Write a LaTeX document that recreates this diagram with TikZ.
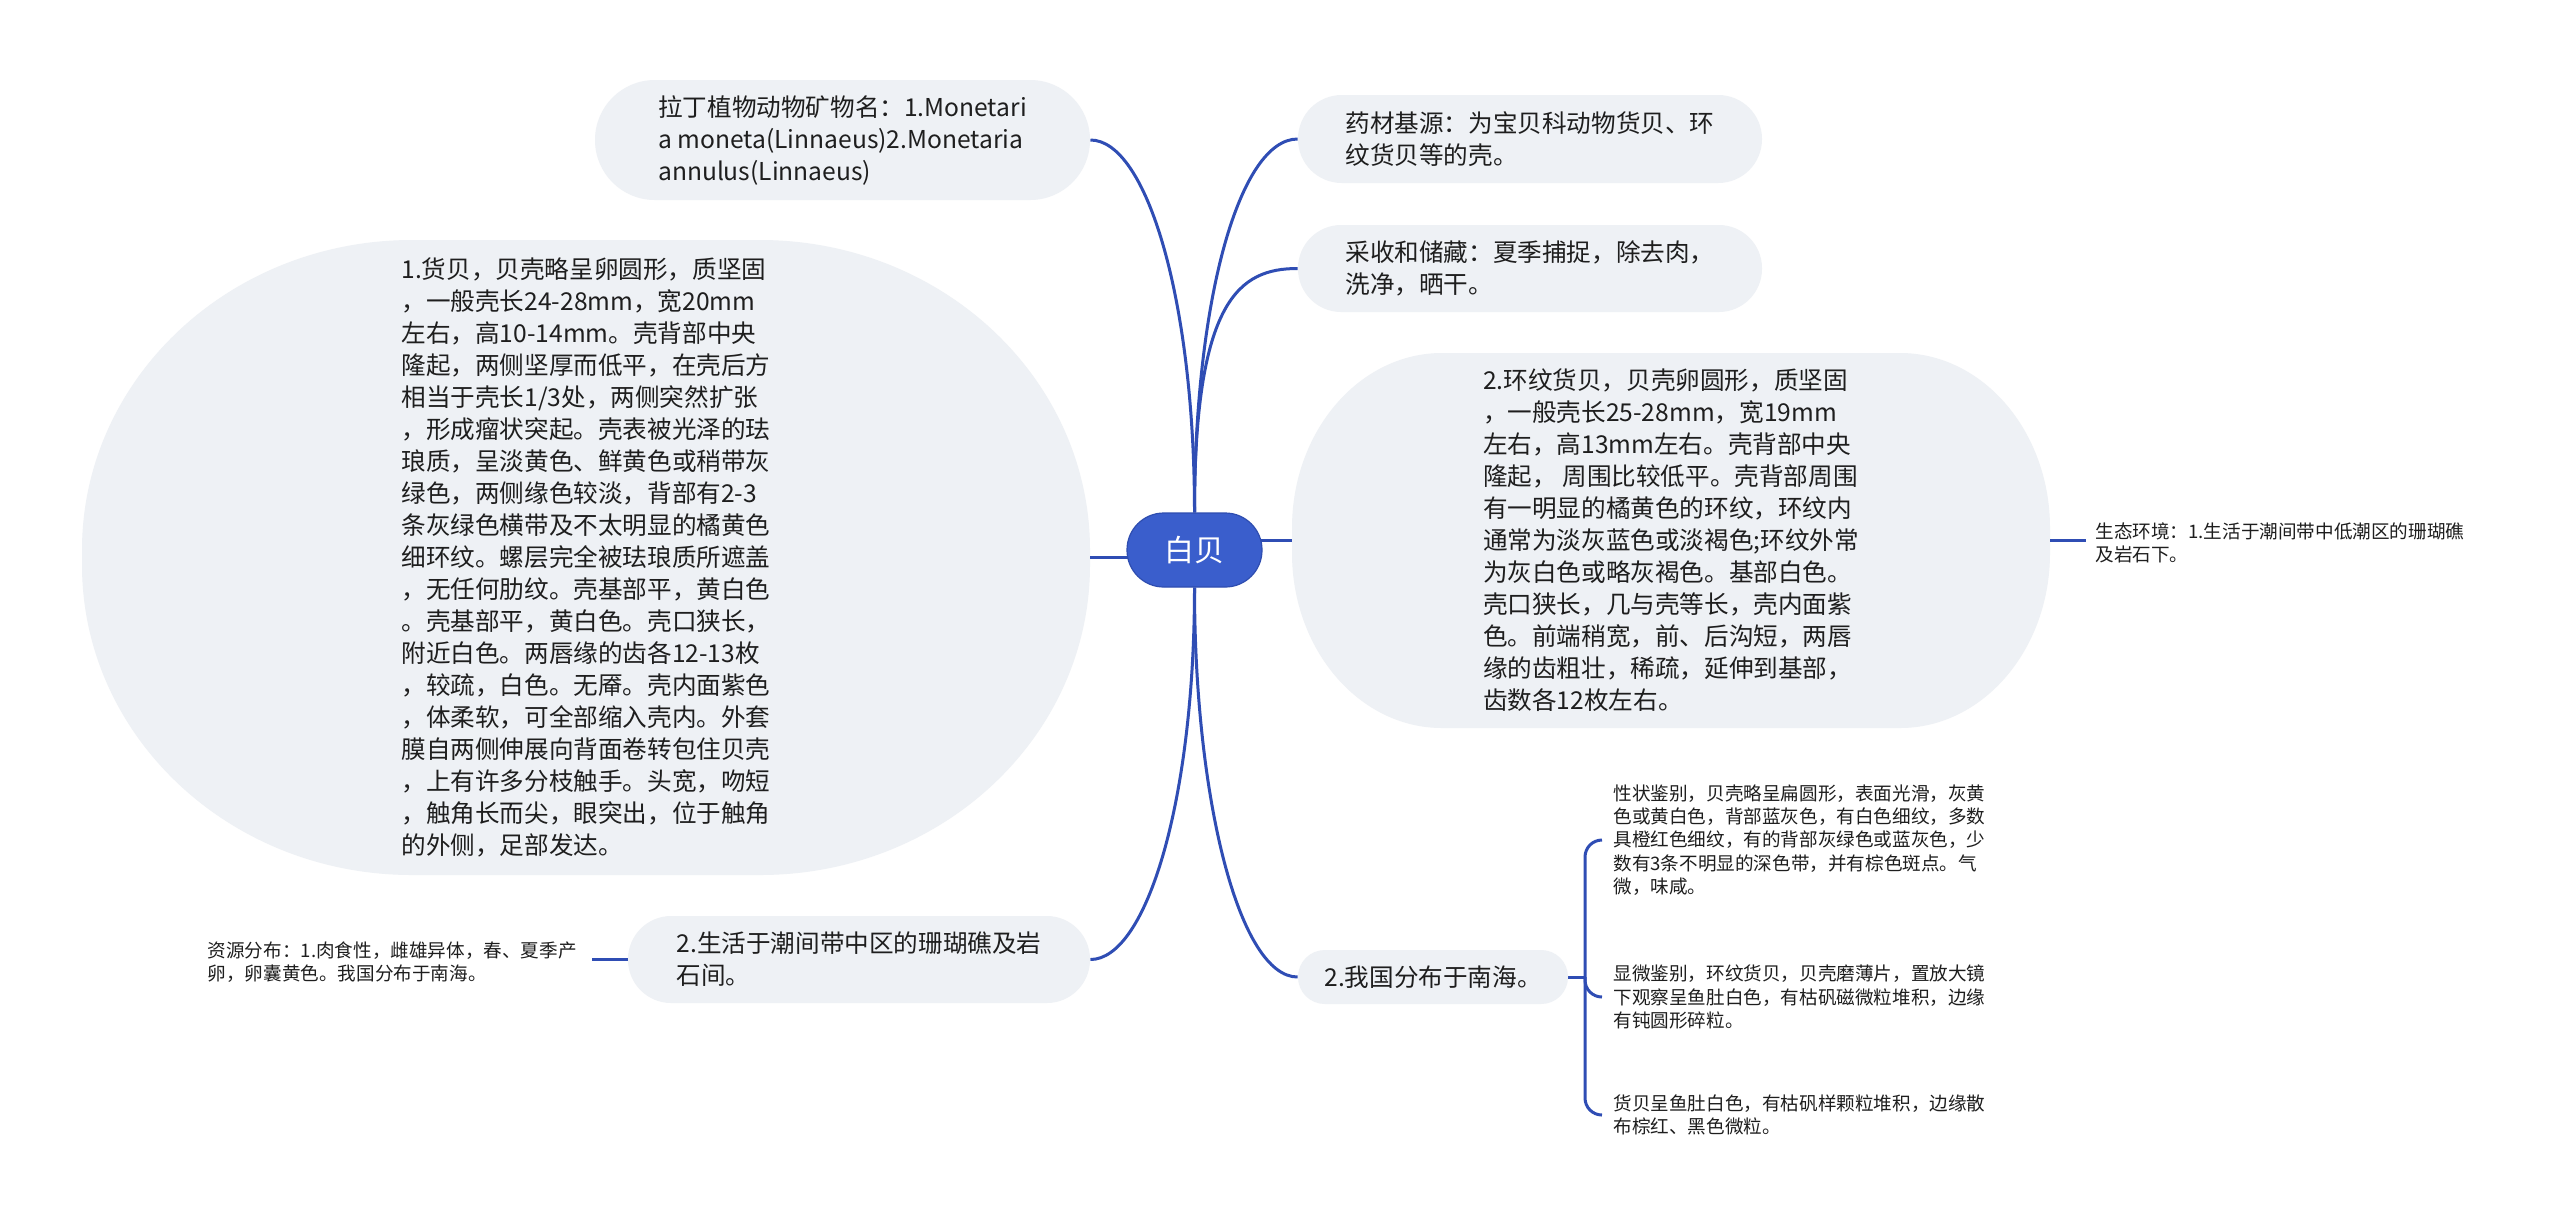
\documentclass[tikz,border=0pt]{standalone}
\usepackage{fontspec}
\setmainfont{Noto Sans CJK SC}
\definecolor{nodefill}{HTML}{EEF1F5}
\definecolor{linec}{HTML}{2F4DB4}
\definecolor{rootc}{HTML}{3A5ECC}
\definecolor{rootb}{HTML}{2E4DB0}
\definecolor{txt}{HTML}{1E1E1E}
\pgfdeclarelayer{bg}
\pgfdeclarelayer{paper}
\pgfsetlayers{paper,bg,main}
\begin{document}
\begin{tikzpicture}[x=0.5pt,y=-0.5pt,
  bubble/.style={fill=nodefill, draw=none, inner sep=0pt, align=left, text=txt,
    font=\fontsize{12.3}{16}\selectfont},
  leaf/.style={inner ysep=0pt, align=left, text=txt, font=\fontsize{9.3}{11.7}\selectfont},
  conn/.style={draw=linec, line width=1.5pt}
]
\begin{pgfonlayer}{paper}
  \fill[white] (0,0) rectangle (2560,1228);
  % oval backgrounds of the two large topics
  \fill[nodefill] (412,240) arc[start angle=90, end angle=180, x radius=165pt, y radius=155pt]
    -- (82,565) arc[start angle=180, end angle=270, x radius=165pt, y radius=155pt]
    -- (760,875) arc[start angle=270, end angle=360, x radius=165pt, y radius=155pt]
    -- (1090,550) arc[start angle=0, end angle=90, x radius=165pt, y radius=155pt] -- cycle;
  \fill[nodefill] (1442,353) arc[start angle=90, end angle=180, x radius=75pt, y radius=87.5pt]
    -- (1292,553) arc[start angle=180, end angle=270, x radius=75pt, y radius=87.5pt]
    -- (1900,728) arc[start angle=270, end angle=360, x radius=75pt, y radius=87.5pt]
    -- (2050,528) arc[start angle=0, end angle=90, x radius=75pt, y radius=87.5pt] -- cycle;
\end{pgfonlayer}
\useasboundingbox (0,0) rectangle (2560,1228);

% root
\node[fill=rootc, draw=rootb, line width=0.6pt, rounded corners=18.4pt, minimum width=67.5pt, minimum height=37pt,
  inner sep=0pt, text=white, font=\fontsize{15}{18}\selectfont] (root) at (1194.5,550) {白贝};

% left side
\node[bubble, rounded corners=29.9pt, minimum width=247.5pt, minimum height=60pt] (lat) at (842.5,140)
  {拉丁植物动物矿物名：1.Monetari\\a moneta(Linnaeus)2.Monetaria\\annulus(Linnaeus)};

\node[bubble, fill=none, minimum width=504pt, minimum height=317.5pt] (huo) at (586,557.5)
  {1.货贝，贝壳略呈卵圆形，质坚固\\
   ，一般壳长24-28mm，宽20mm\\
   左右，高10-14mm。壳背部中央\\
   隆起，两侧坚厚而低平，在壳后方\\
   相当于壳长1/3处，两侧突然扩张\\
   ，形成瘤状突起。壳表被光泽的珐\\
   琅质，呈淡黄色、鲜黄色或稍带灰\\
   绿色，两侧缘色较淡，背部有2-3\\
   条灰绿色横带及不太明显的橘黄色\\
   细环纹。螺层完全被珐琅质所遮盖\\
   ，无任何肋纹。壳基部平，黄白色\\
   。壳基部平，黄白色。壳口狭长，\\
   附近白色。两唇缘的齿各12-13枚\\
   ，较疏，白色。无厣。壳内面紫色\\
   ，体柔软，可全部缩入壳内。外套\\
   膜自两侧伸展向背面卷转包住贝壳\\
   ，上有许多分枝触手。头宽，吻短\\
   ，触角长而尖，眼突出，位于触角\\
   的外侧，足部发达。};

\node[bubble, rounded corners=21.6pt, minimum width=231pt, minimum height=43.5pt] (sh) at (859,959.5)
  {2.生活于潮间带中区的珊瑚礁及岩\\石间。};

\node[leaf, inner xsep=7.5pt, anchor=east] (res) at (592,962)
  {资源分布：1.肉食性，雌雄异体，春、夏季产\\卵，卵囊黄色。我国分布于南海。};

% right side
\node[bubble, rounded corners=21.9pt, minimum width=232pt, minimum height=44pt] (yao) at (1530,139)
  {药材基源：为宝贝科动物货贝、环\\纹货贝等的壳。};

\node[bubble, rounded corners=21.6pt, minimum width=232pt, minimum height=43.5pt] (cai) at (1530,268.5)
  {采收和储藏：夏季捕捉，除去肉，\\洗净，晒干。};

\node[bubble, fill=none, minimum width=379pt, minimum height=187.5pt] (hw) at (1671,540.5)
  {2.环纹货贝，贝壳卵圆形，质坚固\\
   ，一般壳长25-28mm，宽19mm\\
   左右，高13mm左右。壳背部中央\\
   隆起，\ 周围比较低平。壳背部周围\\
   有一明显的橘黄色的环纹，环纹内\\
   通常为淡灰蓝色或淡褐色;环纹外常\\
   为灰白色或略灰褐色。基部白色。\\
   壳口狭长，几与壳等长，壳内面紫\\
   色。前端稍宽，前、后沟短，两唇\\
   缘的齿粗壮，稀疏，延伸到基部，\\
   齿数各12枚左右。};

\node[leaf, inner xsep=4.5pt, anchor=west] (env) at (2086,543)
  {生态环境：1.生活于潮间带中低潮区的珊瑚礁\\及岩石下。};

\node[bubble, rounded corners=13.4pt, minimum width=135pt, minimum height=27pt] (wo) at (1433,977)
  {2.我国分布于南海。};

\node[leaf, inner xsep=5.5pt, anchor=west] (x1) at (1602,840)
  {性状鉴别，贝壳略呈扁圆形，表面光滑，灰黄\\
   色或黄白色，背部蓝灰色，有白色细纹，多数\\
   具橙红色细纹，有的背部灰绿色或蓝灰色，少\\
   数有3条不明显的深色带，并有棕色斑点。气\\
   微，味咸。};

\node[leaf, inner xsep=5.5pt, anchor=west] (x2) at (1602,997)
  {显微鉴别，环纹货贝，贝壳磨薄片，置放大镜\\
   下观察呈鱼肚白色，有枯矾磁微粒堆积，边缘\\
   有钝圆形碎粒。};

\node[leaf, inner xsep=5.5pt, anchor=west] (x3) at (1602,1115)
  {货贝呈鱼肚白色，有枯矾样颗粒堆积，边缘散\\
   布棕红、黑色微粒。};

\coordinate (br) at (1585,977);

\begin{pgfonlayer}{bg}
  \draw[conn] (root.north) .. controls +(0,-213) and +(56,0) .. (lat.east);
  \draw[conn] (root.north) .. controls +(0,-213) and +(-58,0) .. (yao.west);
  \draw[conn] (root.north) .. controls +(0,-213) and +(-58,0) .. (cai.west);
  \draw[conn] (root.south) .. controls +(0,213) and +(56,0) .. (sh.east);
  \draw[conn] (root.south) .. controls +(0,213) and +(-58,0) .. (wo.west);
  \draw[conn] (root.center |- huo.east) -- (huo.east);
  \draw[conn] (root.center |- hw.west) -- (hw.west);
  \draw[conn] (hw.east) -- (hw.east -| env.west);
  \draw[conn] (res.east |- sh.west) -- (sh.west);
  \draw[conn] (wo.east) -- (br);
  \draw[conn, rounded corners=8.5pt] (br) |- (x1.west);
  \draw[conn, rounded corners=8.5pt] (br) |- (x2.west);
  \draw[conn, rounded corners=8.5pt] (br) |- (x3.west);
\end{pgfonlayer}
\end{tikzpicture}
\end{document}
